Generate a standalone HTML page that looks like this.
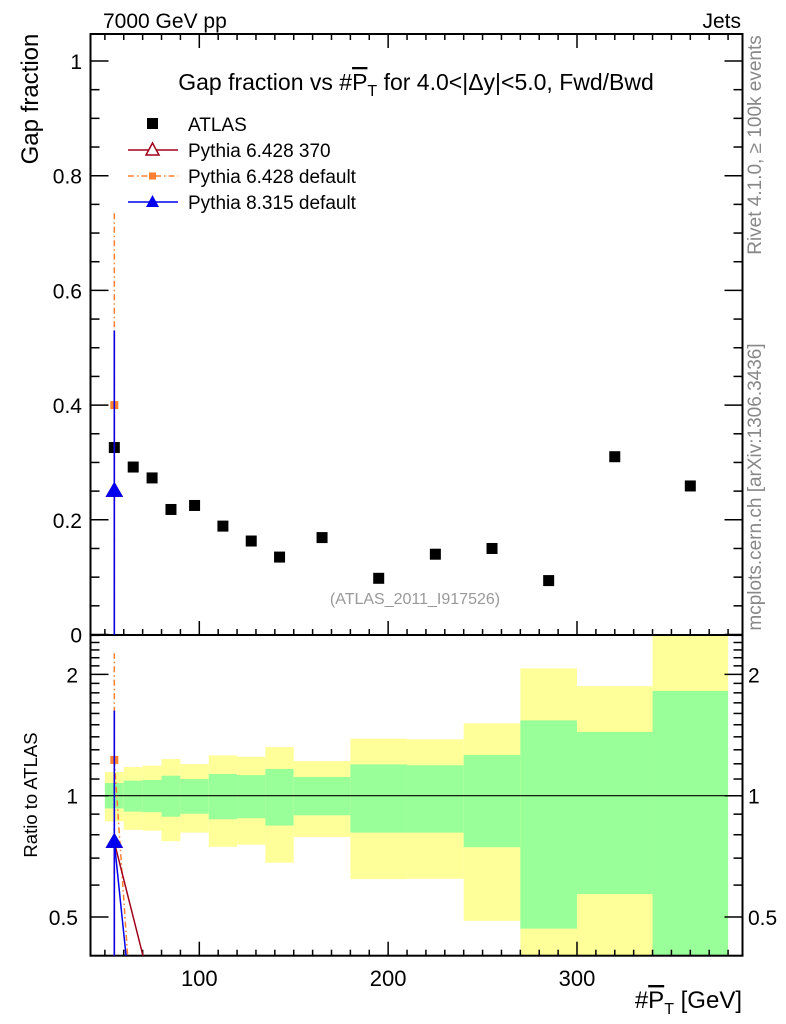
<!DOCTYPE html>
<html><head><meta charset="utf-8"><style>
html,body{margin:0;padding:0;background:#fff;overflow:hidden;width:786px;height:1024px;}
svg{display:block;}
svg text{font-family:"Liberation Sans",sans-serif;}
</style></head><body>
<svg id="chart" width="786" height="1024" viewBox="0 0 786 1024" xmlns="http://www.w3.org/2000/svg">
<g id="bands"></g>
<g id="axes"></g>
<g id="marks"></g>
<text x="103" y="28" font-size="21">7000 GeV pp</text>
<text x="741" y="28" font-size="21" text-anchor="end">Jets</text>
<text x="416" y="90" font-size="23" text-anchor="middle">Gap fraction vs #<tspan text-decoration="overline">P</tspan><tspan font-size="16" dy="6">T</tspan><tspan dy="-6"> for 4.0&lt;|Δy|&lt;5.0, Fwd/Bwd</tspan></text>
<text transform="translate(38,99) rotate(-90)" font-size="24" text-anchor="middle">Gap fraction</text>
<text transform="translate(37,795) rotate(-90)" font-size="18.5" text-anchor="middle">Ratio to ATLAS</text>
<text x="742" y="1008" font-size="24" text-anchor="end">#<tspan text-decoration="overline">P</tspan><tspan font-size="16" dy="6">T</tspan><tspan dy="-6"> [GeV]</tspan></text>
<text transform="translate(761,145) rotate(-90)" font-size="19" fill="#888" text-anchor="middle">Rivet 4.1.0, ≥ 100k events</text>
<text transform="translate(761,487) rotate(-90)" font-size="19" fill="#888" text-anchor="middle">mcplots.cern.ch [arXiv:1306.3436]</text>
<text x="415" y="604" font-size="16" fill="#999" text-anchor="middle">(ATLAS_2011_I917526)</text>
<g font-size="19">
 <g><rect x="147" y="118" width="11" height="11" fill="#000"/><text x="188" y="131">ATLAS</text></g>
 <g><line x1="128" y1="150" x2="178" y2="150" stroke="#a00018" stroke-width="1.5"/><path d="M152.5,143 L159,155 L146,155 Z" fill="#fff" stroke="#a00018" stroke-width="1.5"/><text x="188" y="157">Pythia 6.428 370</text></g>
 <g><line x1="128" y1="176" x2="178" y2="176" stroke="#ff8030" stroke-width="1.5" stroke-dasharray="6,3,1.5,3"/><rect x="149" y="172.5" width="7" height="7" fill="#ff8030"/><text x="188" y="183">Pythia 6.428 default</text></g>
 <g><line x1="128" y1="202" x2="178" y2="202" stroke="#0000ee" stroke-width="1.5"/><path d="M152.5,195 L159,207 L146,207 Z" fill="#0000ee"/><text x="188" y="209">Pythia 8.315 default</text></g>
</g>
</svg>
<script>
const binEdges=[50,60,70,80,90,105,120,135,150,180,210,240,270,300,340,380];
const atlasValues=[0.326,0.292,0.273,0.218,0.225,0.189,0.163,0.135,0.169,0.098,0.140,0.150,0.094,0.310,0.259];
const outerHi=[1.145,1.178,1.187,1.233,1.198,1.259,1.249,1.32,1.219,1.385,1.38,1.512,2.07,1.87,3.0];
const innerHi=[1.075,1.09,1.094,1.121,1.10,1.132,1.125,1.165,1.113,1.196,1.19,1.262,1.538,1.44,1.82];
const innerLo=[0.93,0.913,0.91,0.887,0.902,0.874,0.879,0.843,0.894,0.81,0.81,0.745,0.468,0.57,0.3];
const outerLo=[0.864,0.823,0.819,0.771,0.81,0.747,0.756,0.682,0.79,0.621,0.622,0.489,0.2,0.2,0.2];
const mcNames=['pythia6-370','pythia6-default','pythia8-default'];
const mcMain=[0.25,0.40,0.25];
const mcErrLo=[-0.05,0.065,-0.05];
const mcErrHi=[0.53,0.736,0.53];
const mcRatioTail=[[0.767,0.5],[1.227,0.25],[0.767,0.27]];
const mainTicks=[0,0.2,0.4,0.6,0.8,1];
const ratioMajor=[0.5,1,2];
const xMajor=[100,200,300];

const NS='http://www.w3.org/2000/svg';
const L=90.5,R=742.5,T=34,MB=635,RB=955.7;
const xs=v=>199.3+(v-100)*1.8885;
const ym=v=>634.5-v*573.5;
const yr=v=>795.7-121.3*Math.log2(v);
const clampR=y=>Math.max(MB,Math.min(RB,y));
function mk(parent,tag,attrs){const e=document.createElementNS(NS,tag);for(const k in attrs)e.setAttribute(k,attrs[k]);document.getElementById(parent).appendChild(e);return e;}

for(let i=0;i<atlasValues.length;i++){
 const x0=xs(binEdges[i]),x1=xs(binEdges[i+1]);
 let e=mk('bands','rect',{x:x0,y:clampR(yr(outerHi[i])),width:x1-x0,height:clampR(yr(outerLo[i]))-clampR(yr(outerHi[i])),fill:'#ffff99'});
 
 
 e=mk('bands','rect',{x:x0,y:clampR(yr(innerHi[i])),width:x1-x0,height:clampR(yr(innerLo[i]))-clampR(yr(innerHi[i])),fill:'#99ff99'});
 
 
}
let f=mk('axes','line',{x1:xs(binEdges[0]),x2:xs(binEdges[binEdges.length-1]),y1:yr(1),y2:yr(1),stroke:'#000','stroke-width':1.2});


f=mk('axes','rect',{x:L,y:T,width:R-L,height:MB-T,fill:'none',stroke:'#000','stroke-width':2});


f=mk('axes','rect',{x:L,y:MB,width:R-L,height:RB-MB,fill:'none',stroke:'#000','stroke-width':2});


function tick(x1,y1,x2,y2){const e=mk('axes','line',{x1,y1,x2,y2,stroke:'#000','stroke-width':1.5});}
function label(x,y,t,anchor,fs,name){const e=mk('axes','text',{x,y,'font-size':fs,'text-anchor':anchor});e.textContent=t;}
for(let v=50;v<=380;v+=10){
 const x=xs(v),maj=xMajor.includes(v),len=maj?14:6;
 tick(x,T,x,T+len);tick(x,MB,x,MB-len);tick(x,RB,x,RB-len);
}
xMajor.forEach(v=>label(xs(v),986,String(v),'middle',22,'x-tick-label'));
for(let k=0;k<=20;k++){
 const v=k*0.05,y=ym(v);if(y<T)continue;
 const maj=k%4===0,len=maj?18:9;
 tick(L,y,L+len,y);tick(R,y,R-len,y);
}
mainTicks.forEach(v=>label(82,ym(v)+8,String(v),'end',21,'y-tick-label'));
const rMinor=[0.4,0.6,0.7,0.8,0.9,1.1,1.2,1.3,1.4,1.5,1.6,1.7,1.8,1.9,2.1,2.2,2.3,2.4,2.5];
rMinor.forEach(v=>{const y=yr(v);if(y<MB||y>RB)return;tick(L,y,L+9,y);tick(R,y,R-9,y);});
ratioMajor.forEach(v=>{const y=yr(v);tick(L,y,L+18,y);tick(R,y,R-18,y);label(78,y+8,String(v),'end',21,'ratio-tick-label');label(748,y+8,String(v),'start',21,'ratio-tick-label-right');});

atlasValues.forEach((v,i)=>{
 const cx=(xs(binEdges[i])+xs(binEdges[i+1]))/2;
 const e=mk('marks','rect',{x:cx-5.5,y:ym(v)-5.5,width:11,height:11,fill:'#000'});
 
 
});
const colors=['#a00018','#ff8030','#0000ee'];
const dashes=['','6,3,1.5,3',''];
const cx0=(xs(binEdges[0])+xs(binEdges[1]))/2;
[1,0,2].forEach(m=>{
 const c=colors[m];
 let e=mk('marks','line',{x1:cx0,x2:cx0,y1:Math.min(MB,ym(mcErrLo[m])),y2:ym(mcErrHi[m]),stroke:c,'stroke-width':1.5,'stroke-dasharray':dashes[m]});
 
 
 e=mk('marks','line',{x1:cx0,x2:cx0,y1:RB,y2:clampR(yr(mcErrHi[m]/atlasValues[0])),stroke:c,'stroke-width':1.5,'stroke-dasharray':dashes[m]});
 
 
 const raw=mcRatioTail[m].map((r,i)=>[(xs(binEdges[i])+xs(binEdges[i+1]))/2,yr(r)]);
 const pts=[raw[0]];
 for(let i=1;i<raw.length;i++){
  const a=raw[i-1],b=raw[i];
  if(b[1]<=RB) pts.push(b); else {const t=(RB-a[1])/(b[1]-a[1]);pts.push([a[0]+(b[0]-a[0])*t,RB]);break;}
  if(i===raw.length-1){const t=(RB-a[1])/(b[1]-a[1]);pts.push([a[0]+(b[0]-a[0])*t,RB]);}
 }
 e=mk('marks','polyline',{points:pts.map(p=>p.join(',')).join(' '),fill:'none',stroke:c,'stroke-width':1.5,'stroke-dasharray':dashes[m]});
 
 
 const yM=ym(mcMain[m]),yR=yr(mcMain[m]/atlasValues[0]);
 [yM,yR].forEach(y=>{
  let mkr;
  if(m===1) mkr=mk('marks','rect',{x:cx0-4,y:y-4,width:8,height:8,fill:c});
  else mkr=mk('marks','path',{d:`M${cx0},${y-8} L${cx0+7.5},${y+5} L${cx0-7.5},${y+5} Z`,fill:m===2?c:'#fff',stroke:c,'stroke-width':1.5});
  
  
 });
});
</script>
</body></html>
